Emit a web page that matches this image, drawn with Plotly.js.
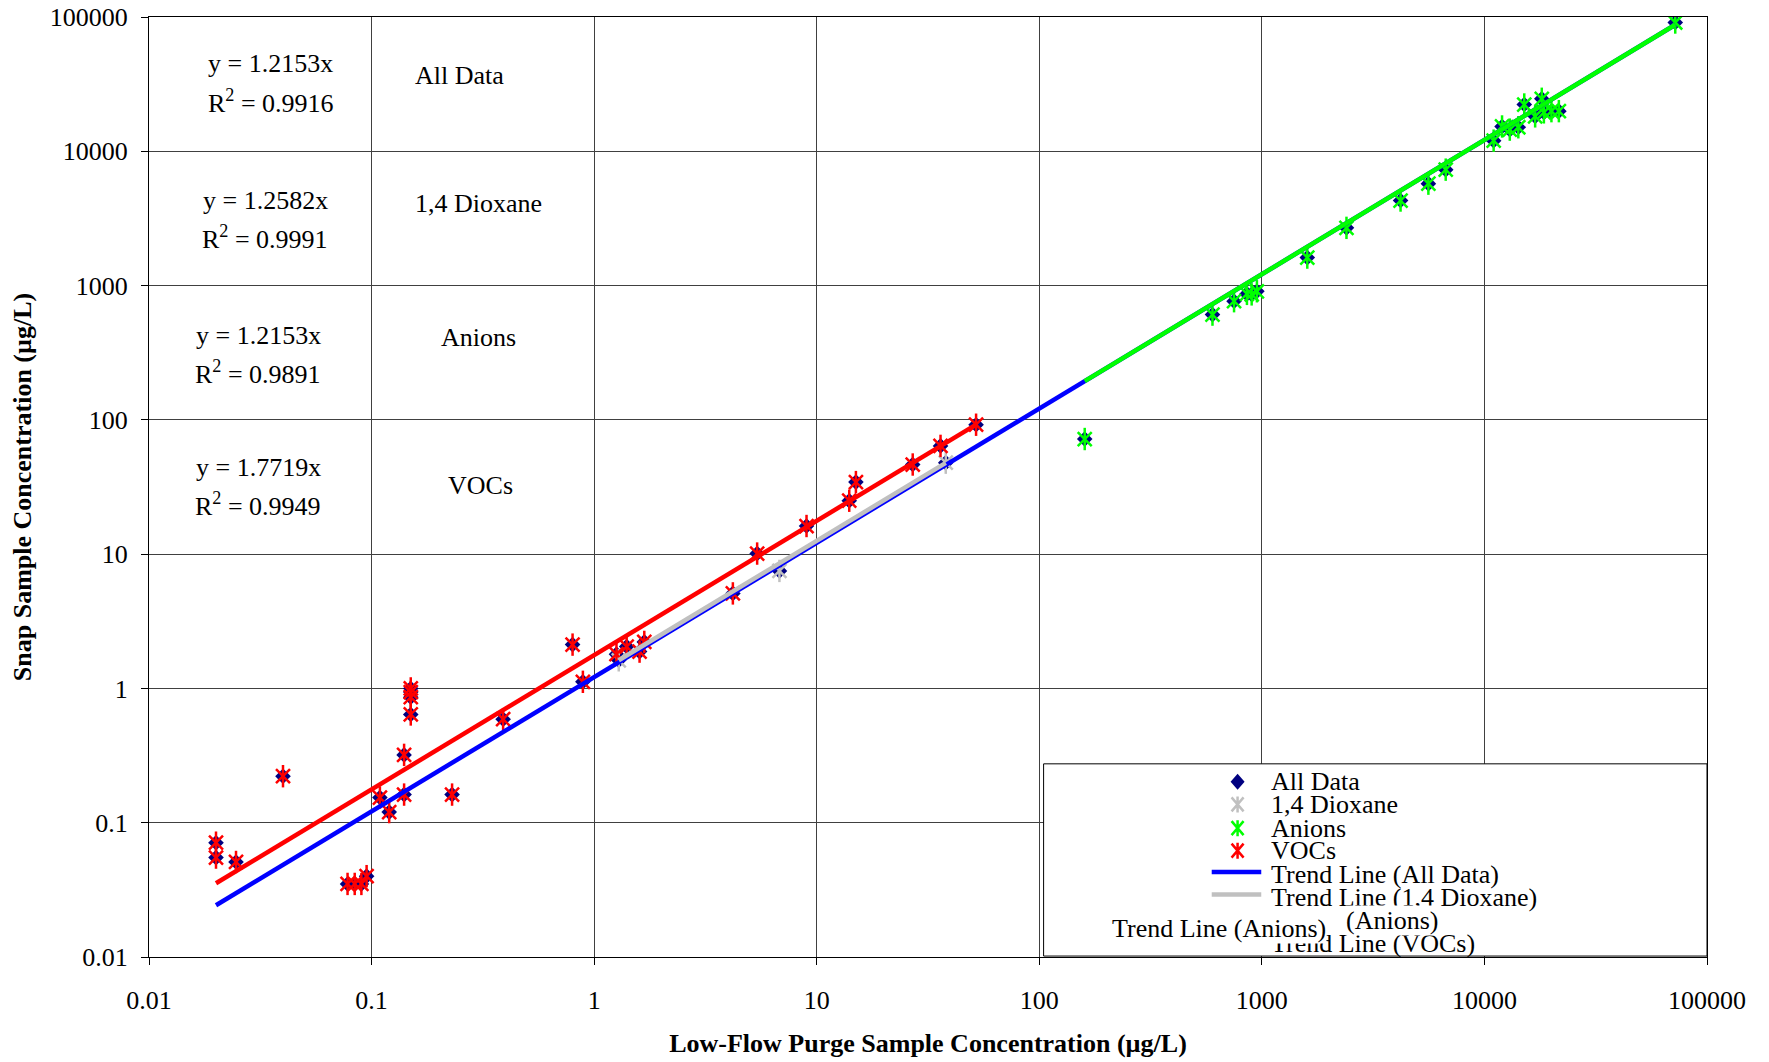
<!DOCTYPE html>
<html><head><meta charset="utf-8">
<script src="https://cdn.plot.ly/plotly-3.0.1.min.js"></script>
<style>html,body{margin:0;padding:0;background:#fff;}#chart{width:1769px;height:1062px;}</style>
</head><body><div id="chart"></div>
<script>
// ---- data ----
const voc_x = [0.02, 0.02, 0.0246, 0.04, 0.078, 0.084, 0.09, 0.095, 0.109, 0.12, 0.14, 0.14, 0.15, 0.15, 0.15, 0.15, 0.23, 0.39, 0.8, 0.89, 1.26, 1.4, 1.6, 1.68, 4.2, 5.4, 9.0, 14, 15, 27, 36, 52];
const voc_y = [0.071, 0.055, 0.051, 0.222, 0.035, 0.035, 0.035, 0.040, 0.154, 0.12, 0.162, 0.32, 1.0, 0.94, 0.86, 0.64, 0.162, 0.59, 2.12, 1.12, 1.8, 2.05, 1.88, 2.22, 5.1, 10.1, 16.2, 25, 34.4, 46.5, 64, 92];
const dioxane_x = [1.29, 6.8, 38];
const dioxane_y = [1.62, 7.5, 48];
const anion_x = [160, 600, 750, 857, 900, 950, 1600, 2400, 4200, 5600, 6700, 11000, 12000, 13000, 14200, 15100, 16900, 18100, 18500, 20000, 21600, 72000];
const anion_y = [72, 608, 765, 867, 860, 907, 1616, 2690, 4300, 5740, 7300, 12000, 15300, 14500, 15100, 22300, 18200, 24600, 19500, 19900, 19900, 91000];
const all_x = voc_x.concat(dioxane_x, anion_x);
const all_y = voc_y.concat(dioxane_y, anion_y);

const trend_all_x = [0.02, 72000];
const trend_all_y = [0.0243, 87500];
const trend_dioxane_x = [1.29, 38];
const trend_dioxane_y = [1.62, 47.8];
const trend_anion_x = [160, 72000];
const trend_anion_y = [194.4, 87500];
const trend_voc_x = [0.02, 52];
const trend_voc_y = [0.0354, 92.1];

const tick_vals = [0.01, 0.1, 1, 10, 100, 1000, 10000, 100000];
const tick_text = ["0.01", "0.1", "1", "10", "100", "1000", "10000", "100000"];

const series_names = ["All Data", "1,4 Dioxane", "Anions", "VOCs"];
const trend_names = ["Trend Line (All Data)", "Trend Line (1,4 Dioxane)", "Trend Line (Anions)", "Trend Line (VOCs)"];
const fit_labels = [
  ["y = 1.2153x", "R<sup>2</sup> = 0.9916", "All Data"],
  ["y = 1.2582x", "R<sup>2</sup> = 0.9991", "1,4 Dioxane"],
  ["y = 1.2153x", "R<sup>2</sup> = 0.9891", "Anions"],
  ["y = 1.7719x", "R<sup>2</sup> = 0.9949", "VOCs"]
];

// ---- styling ----
const FONT = "Liberation Serif, Times New Roman, serif";
const FS = 26;
const NAVY = "#000080", GREY = "#C0C0C0", GREEN = "#00FF00", RED = "#FF0000", BLUE = "#0000FF";

function star(x, y, color, name) {
  return [
    {x: x, y: y, type: "scatter", mode: "markers", name: name, showlegend: false, hoverinfo: "x+y",
     marker: {symbol: "x-thin-open", size: 14, color: color, line: {color: color, width: 2.5}}},
    {x: x, y: y, type: "scatter", mode: "markers", name: name, showlegend: false, hoverinfo: "skip",
     marker: {symbol: "line-ns-open", size: 16, color: color, line: {color: color, width: 2.5}}}
  ];
}
function trend(x, y, color, name) {
  return {x: x, y: y, type: "scatter", mode: "lines", name: name, showlegend: false,
          line: {color: color, width: 4.5}};
}

const traces = [
  {x: all_x, y: all_y, type: "scatter", mode: "markers", name: series_names[0], showlegend: false,
   marker: {symbol: "diamond", size: 12, color: NAVY}},
  ...star(dioxane_x, dioxane_y, GREY, series_names[1]),
  ...star(anion_x, anion_y, GREEN, series_names[2]),
  ...star(voc_x, voc_y, RED, series_names[3]),
  trend(trend_all_x, trend_all_y, BLUE, trend_names[0]),
  trend(trend_dioxane_x, trend_dioxane_y, GREY, trend_names[1]),
  trend(trend_anion_x, trend_anion_y, GREEN, trend_names[2]),
  trend(trend_voc_x, trend_voc_y, RED, trend_names[3])
];

// ---- annotations (fit equations) ----
const annotations = [];
const fitPos = [
  {ex: 0.078, ey1: 0.9506, ey2: 0.9106, nx: 0.1996, ny: 0.9377},
  {ex: 0.0745, ey1: 0.8053, ey2: 0.7649, nx: 0.2112, ny: 0.8021},
  {ex: 0.0700, ey1: 0.6617, ey2: 0.6223, nx: 0.2112, ny: 0.6590},
  {ex: 0.0700, ey1: 0.5207, ey2: 0.4809, nx: 0.2125, ny: 0.5016}
];
fit_labels.forEach((lab, i) => {
  const p = fitPos[i];
  const base = {xref: "paper", yref: "paper", showarrow: false, xanchor: "center", yanchor: "middle",
                font: {family: FONT, size: FS, color: "#000"}};
  annotations.push(Object.assign({}, base, {x: p.ex, y: p.ey1, text: lab[0]}));
  annotations.push(Object.assign({}, base, {x: p.ex, y: p.ey2, text: lab[1]}));
  annotations.push(Object.assign({}, base, {x: p.nx, y: p.ny, text: lab[2]}));
});

// ---- legend (drawn as in the reference) ----
const LX_SYM = 0.6987, LX_TXT = 0.7190;
const rowY = [0.1864, 0.1623, 0.1371, 0.1131];
const shapes = [
  {type: "rect", xref: "paper", yref: "paper", x0: 0.5742, x1: 1.0, y0: 0.001, y1: 0.2055,
   fillcolor: "#fff", line: {color: "#000", width: 1}, layer: "above"},
  {type: "path", xref: "paper", yref: "paper", xsizemode: "pixel", ysizemode: "pixel",
   xanchor: LX_SYM, yanchor: rowY[0], path: "M0,8 L7,0 L0,-8 L-7,0 Z",
   fillcolor: NAVY, line: {width: 0}, layer: "above"}
];
[GREY, GREEN, RED].forEach((c, i) => {
  shapes.push({type: "path", xref: "paper", yref: "paper", xsizemode: "pixel", ysizemode: "pixel",
    xanchor: LX_SYM, yanchor: rowY[i + 1], path: "M-6,-7 L6,7 M-6,7 L6,-7 M0,-8 L0,8",
    line: {color: c, width: 2.5}, layer: "above"});
});
shapes.push({type: "line", xref: "paper", yref: "paper", x0: 0.6821, x1: 0.7139, y0: 0.0903, y1: 0.0903,
  line: {color: BLUE, width: 4.5}, layer: "above"});
shapes.push({type: "line", xref: "paper", yref: "paper", x0: 0.6821, x1: 0.7139, y0: 0.0664, y1: 0.0664,
  line: {color: GREY, width: 4.5}, layer: "above"});

const legBase = {xref: "paper", yref: "paper", showarrow: false, xanchor: "left", yanchor: "middle",
                 font: {family: FONT, size: FS, color: "#000"}};
series_names.forEach((n, i) => annotations.push(Object.assign({}, legBase, {x: LX_TXT, y: rowY[i], text: n})));
annotations.push(Object.assign({}, legBase, {x: LX_TXT, y: 0.0879, text: trend_names[0]}));
annotations.push(Object.assign({}, legBase, {x: LX_TXT, y: 0.0628, text: trend_names[1]}));
annotations.push(Object.assign({}, legBase, {x: LX_TXT, y: 0.0147, text: trend_names[3]}));
annotations.push(Object.assign({}, legBase, {x: 0.7675, y: 0.0387, text: "(Anions)", bgcolor: "#fff", borderpad: 0}));
annotations.push(Object.assign({}, legBase, {x: 0.6177, y: 0.0303, text: trend_names[2], bgcolor: "#fff", borderpad: 0}));

const axisCommon = {
  type: "log", range: [-2, 5], tickvals: tick_vals, ticktext: tick_text,
  showgrid: true, gridcolor: "#404040", gridwidth: 1,
  showline: true, linecolor: "#000", linewidth: 1, mirror: true,
  ticks: "outside", ticklen: 7, tickcolor: "#000", tickwidth: 1,
  tickfont: {family: FONT, size: FS, color: "#000"}, zeroline: false
};

const layout = {
  width: 1769, height: 1062,
  margin: {l: 149, r: 62, t: 17, b: 105, pad: 0},
  paper_bgcolor: "#fff", plot_bgcolor: "#fff",
  showlegend: false,
  font: {family: FONT, color: "#000"},
  xaxis: Object.assign({}, axisCommon, {
    ticklabelstandoff: 13,
    title: {text: "<b>Low-Flow Purge Sample Concentration (µg/L)</b>", font: {family: FONT, size: FS, color: "#000"}, standoff: 19.5}
  }),
  yaxis: Object.assign({}, axisCommon, {
    ticklabelstandoff: 8,
    title: {text: "<b>Snap Sample Concentration (µg/L)</b>", font: {family: FONT, size: FS, color: "#000"}, standoff: 10.5}
  }),
  annotations: annotations,
  shapes: shapes,
  hovermode: "closest"
};

Plotly.newPlot("chart", traces, layout, {displayModeBar: false, staticPlot: true});
</script>
</body></html>
